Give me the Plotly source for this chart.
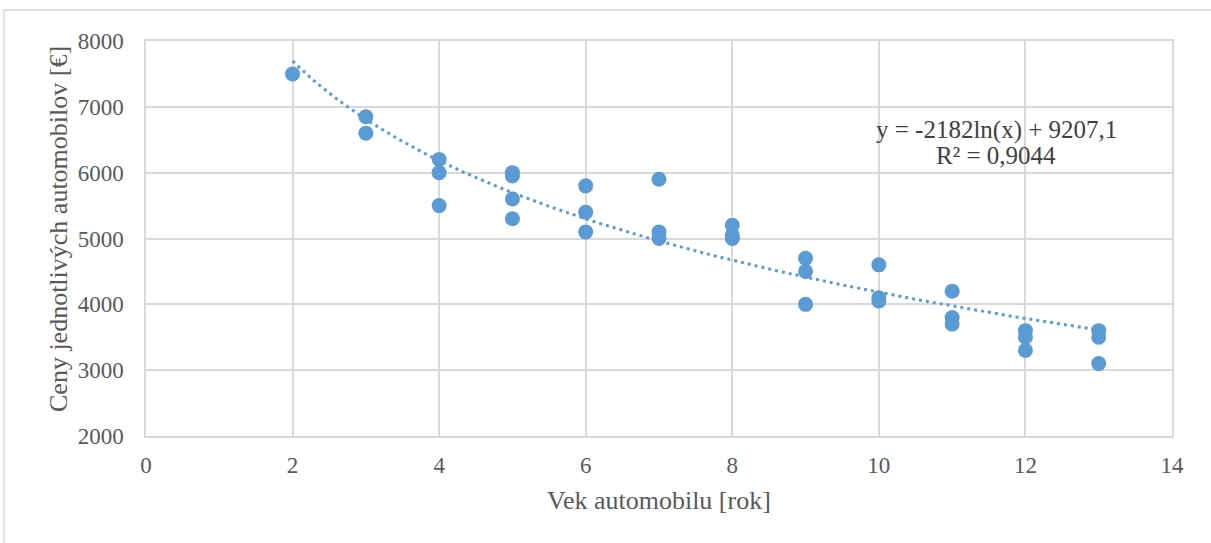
import numpy as np
import plotly.graph_objects as go

# Vehicle age [years] and observed price [EUR]
vek = [2,
       3, 3,
       4, 4, 4,
       5, 5, 5, 5,
       6, 6, 6,
       7, 7, 7,
       8, 8, 8,
       9, 9, 9,
       10, 10, 10,
       11, 11, 11,
       12, 12, 12,
       13, 13, 13]
cena = [7500,
        6850, 6600,
        6200, 6000, 5500,
        6000, 5950, 5600, 5300,
        5800, 5400, 5100,
        5900, 5100, 5000,
        5200, 5050, 5000,
        4700, 4500, 4000,
        4600, 4100, 4050,
        4200, 3800, 3700,
        3600, 3500, 3300,
        3600, 3500, 3100]

# Logarithmic trend: y = a*ln(x) + b
trend_a = -2182.0
trend_b = 9207.1
trend_r2 = 0.9044
trend_from, trend_to = 2, 13

x_ticks = [0, 2, 4, 6, 8, 10, 12, 14]
y_ticks = [2000, 3000, 4000, 5000, 6000, 7000, 8000]

blue = "#5B9BD5"
grid = "#D9D9D9"
txt = "#595959"
font_family = "Liberation Serif, Times New Roman, serif"

tx = np.linspace(trend_from, trend_to, 200)
ty = trend_a * np.log(tx) + trend_b

fig = go.Figure()
fig.add_trace(go.Scatter(
    x=tx, y=ty, mode="lines",
    line=dict(color=blue, width=3, dash="3px,4px"),
    hoverinfo="skip", showlegend=False,
))
fig.add_trace(go.Scatter(
    x=vek, y=cena, mode="markers",
    marker=dict(color=blue, size=15, line=dict(width=0)),
    showlegend=False,
))

# Trendline equation and R², one annotation per line for tight spacing
eq_line = "y = {:.0f}ln(x) + {}".format(trend_a, str(trend_b).replace(".", ","))
r2_line = "R² = " + "{:.4f}".format(trend_r2).replace(".", ",")
eq_font = dict(family=font_family, size=25, color="#404040")
fig.add_annotation(x=11.6, y=6650, xref="x", yref="y", text=eq_line,
                   showarrow=False, font=eq_font)
fig.add_annotation(x=11.6, y=6255, xref="x", yref="y", text=r2_line,
                   showarrow=False, font=eq_font)

# Plot-area pixel box and helpers for paper coordinates
L, R = 146, 1172
T, B = 41, 436
def px_x(p):
    return (p - L) / (R - L)
def px_y(p):
    return (B - p) / (B - T)

# Outer chart frame (partially clipped by the page edge)
fig.add_shape(type="rect", xref="paper", yref="paper",
              x0=px_x(4), x1=px_x(1230), y0=px_y(560), y1=px_y(10),
              line=dict(color=grid, width=1.5), fillcolor="rgba(0,0,0,0)",
              layer="below")

title_font = dict(family=font_family, size=26, color=txt)
fig.add_annotation(x=px_x(659), y=px_y(500), xref="paper", yref="paper",
                   text="Vek automobilu [rok]", showarrow=False,
                   xanchor="center", yanchor="middle", font=title_font)
fig.add_annotation(x=px_x(58), y=px_y(229), xref="paper", yref="paper",
                   text="Ceny jednotlivých automobilov [€]", showarrow=False,
                   textangle=-90, xanchor="center", yanchor="middle",
                   font=title_font)

axis_common = dict(
    showgrid=True, gridcolor=grid, gridwidth=1.5,
    showline=True, linecolor=grid, linewidth=1.5, mirror=True,
    zeroline=False, ticks="",
    tickfont=dict(family=font_family, size=23, color=txt),
)

fig.update_layout(
    width=1211, height=543,
    margin=dict(l=L, r=1211 - R, t=T, b=543 - B),
    paper_bgcolor="white", plot_bgcolor="white",
    xaxis=dict(range=[0, 14], tickvals=x_ticks, ticklabelstandoff=8,
               **axis_common),
    yaxis=dict(range=[2000, 8000], tickvals=y_ticks, ticklabelstandoff=16,
               **axis_common),
)

fig.write_html("out.html")
